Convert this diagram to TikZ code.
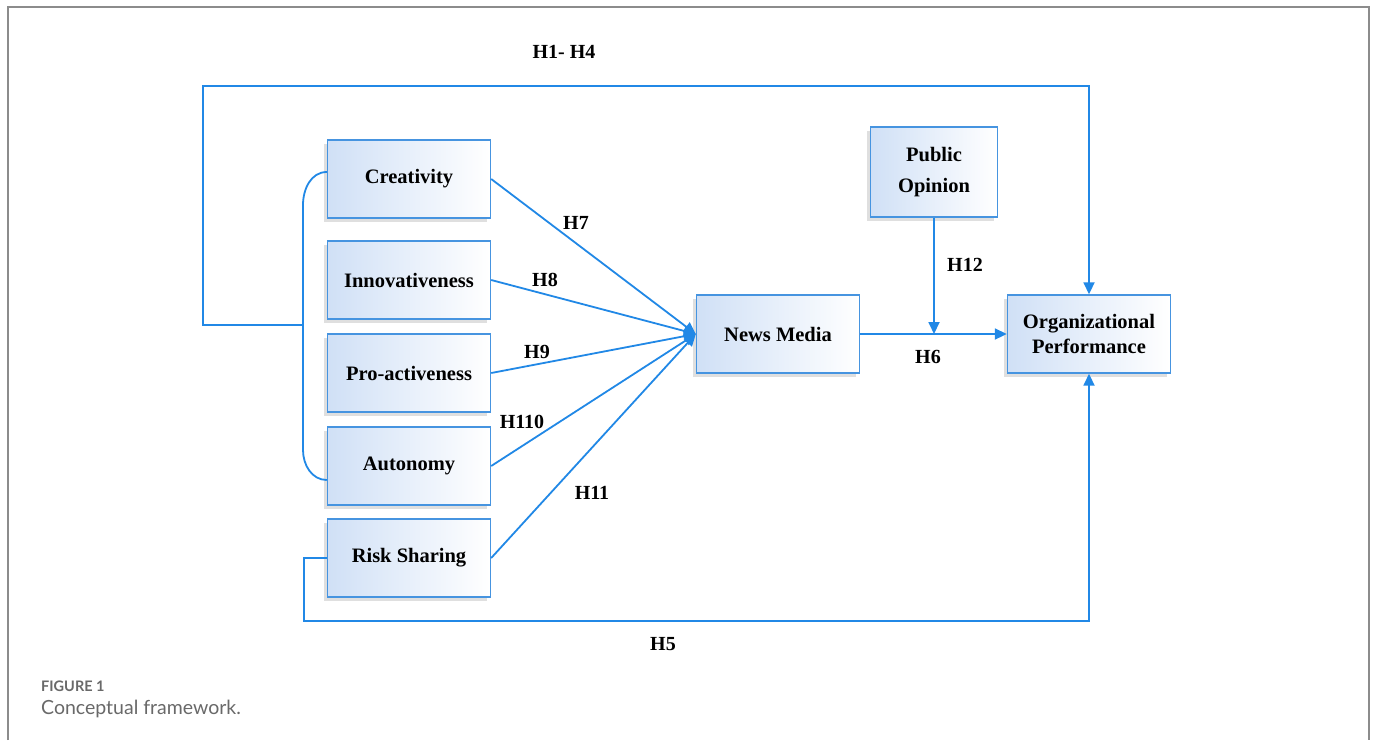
\documentclass[tikz,border=0pt]{standalone}
\usepackage{fontspec}
\setmainfont{Liberation Serif}
\newfontfamily\capfont{Lato}
\usetikzlibrary{arrows.meta,shadows}
\definecolor{lblue}{RGB}{33,136,230}
\definecolor{bblue}{RGB}{70,148,224}
\definecolor{fblue}{RGB}{208,224,246}
\definecolor{framegray}{RGB}{140,140,140}
\definecolor{capgray}{RGB}{105,105,105}
\tikzstyle{box} = [draw=bblue, line width=1.4pt, rectangle, left color=fblue, right color=white, minimum width=163pt, minimum height=78pt, align=center, font=\fontsize{20.5}{25}\selectfont\bfseries, drop shadow={shadow xshift=-4pt, shadow yshift=-4pt, opacity=0.25}]
\tikzstyle{ln} = [draw=lblue, line width=1.8pt]
\tikzstyle{arr} = [ln, -{Triangle[length=12pt,width=11pt]}]
\tikzstyle{hyp} = [font=\fontsize{20}{22}\selectfont\bfseries]

\begin{document}
\begin{tikzpicture}[x=1pt,y=-1pt]
	\useasboundingbox (0,0) rectangle (1375,740);
	\fill[white] (0,0) rectangle (1375,740);
	\draw[framegray, line width=2pt] (8,740) -- (8,7) -- (1369,7) -- (1369,740);

	\node[box] (cre) at (409,179) {Creativity};
	\node[box] (inn) at (409,280) {Innovativeness};
	\node[box] (pro) at (409,373) {Pro-activeness};
	\node[box] (aut) at (409,466) {Autonomy};
	\node[box] (rsk) at (409,558) {Risk Sharing};
	\node[box] (nm) at (778,334) {News Media};
	\node[box, minimum width=127pt, minimum height=90pt] (po) at (934,172) {Public\\[6pt]Opinion};
	\node[box] (op) at (1089,334) {Organizational\\Performance};

	\coordinate (bt) at (303,205);
	\coordinate (bb) at (303,450);
	\coordinate (bm) at (303,325);
	\coordinate (tl) at (203,86);
	\coordinate (bl) at (304,621);

	\draw[ln] ([yshift=7pt]cre.west) to[out=180,in=90] (bt) -- (bb) to[out=-90,in=180] ([yshift=-14pt]aut.west);
	\draw[arr] (bm) -| (tl) -| (op.north);
	\draw[arr] (rsk.west) -| (bl) -| (op.south);

	\draw[arr] (cre.east) -- (nm.west);
	\draw[arr] (inn.east) -- (nm.west);
	\draw[arr] (pro.east) -- (nm.west);
	\draw[arr] (aut.east) -- (nm.west);
	\draw[arr] (rsk.east) -- (nm.west);
	\draw[arr] (nm.east) -- (op.west);
	\draw[arr] (po.south) -- (po.south |- nm.east);

	\node[hyp] (h14) at (564,52) {H1- H4};
	\node[hyp] (h5) at (663,644) {H5};
	\node[hyp] (h6) at (928,357) {H6};
	\node[hyp] (h7) at (576,223) {H7};
	\node[hyp] (h8) at (545,280) {H8};
	\node[hyp] (h9) at (537,352) {H9};
	\node[hyp] (h110) at (522,422) {H110};
	\node[hyp] (h11) at (592,493) {H11};
	\node[hyp] (h12) at (965,265) {H12};

	\node[anchor=west, inner sep=0, text=capgray, font=\capfont\fontsize{14.5}{16}\selectfont\bfseries] (fig) at (41,686) {FIGURE 1};
	\node[anchor=west, inner sep=0, text=capgray, font=\capfont\fontsize{19.5}{20}\selectfont] (cap) at (41,709) {Conceptual framework.};
\end{tikzpicture}
\end{document}
